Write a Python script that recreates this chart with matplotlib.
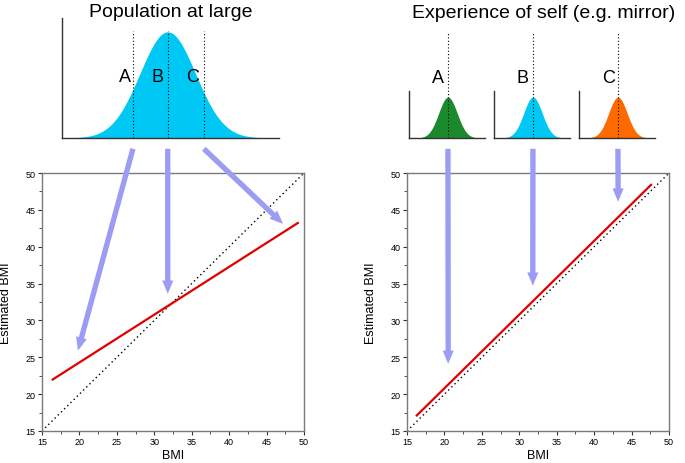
import matplotlib
matplotlib.use("Agg")
import matplotlib.pyplot as plt
import matplotlib.transforms as mtransforms
import numpy as np

plt.rcParams["font.family"] = ["Liberation Sans", "DejaVu Sans"]

# main panels: red fitted lines
pop_x = [16.3, 49.3]
pop_y = [21.9, 43.3]
self_x = [16.2, 47.7]
self_y = [17.0, 48.5]
ident = [15, 50]

# where the arrows land (BMI, estimated BMI)
pop_targets = [(19.8, 25.9), (31.8, 33.6), (47.2, 43.1)]
self_targets = [(20.5, 24.1), (31.8, 34.7), (43.2, 46.1)]

# top distributions, in sd units
labels = ["A", "B", "C"]
pop_marks = [-1.25, 0.0, 1.3]
pop_label_x = [-1.54, -0.36, 0.9]
self_colors = ["#1a8a2c", "#00c8f5", "#ff6a00"]
arrow_color = "#9c9cf5"

fig = plt.figure(figsize=(6.85, 4.64), dpi=100)


def main_panel(rect, xs, ys):
    ax = fig.add_axes(rect)
    ax.plot(ident, ident, color="black", ls=(0, (1, 2.2)), lw=1)
    ax.plot(xs, ys, color="#e00000", lw=1.6, solid_capstyle="butt")
    ax.set_xlim(15, 50)
    ax.set_ylim(15, 50)
    ax.set_xticks(np.arange(15, 51, 5))
    ax.set_yticks(np.arange(15, 51, 5))
    ax.set_xticks(np.arange(17.5, 50, 5), minor=True)
    ax.set_yticks(np.arange(17.5, 50, 5), minor=True)
    ax.tick_params(which="major", direction="out", length=3, width=0.8,
                   labelsize=6.5, pad=1.5, color="#333333")
    ax.tick_params(which="minor", direction="out", length=2, width=0.6,
                   color="#333333")
    for s in ax.spines.values():
        s.set_color("#7a7a7a")
        s.set_linewidth(1)
    ax.set_xlabel("BMI", fontsize=9, labelpad=2)
    ax.set_ylabel("Estimated BMI", fontsize=9, labelpad=10)
    return ax


ax1 = main_panel([0.0613, 0.069, 0.3825, 0.556], pop_x, pop_y)
ax2 = main_panel([0.5942, 0.069, 0.3825, 0.556], self_x, self_y)


def gauss_panel(rect, xlim, ylim, color):
    ax = fig.add_axes(rect)
    x = np.linspace(xlim[0], xlim[1], 300)
    ax.fill_between(x, np.exp(-x ** 2 / 2), color=color, lw=0)
    ax.set_xlim(*xlim)
    ax.set_ylim(*ylim)
    ax.set_xticks([])
    ax.set_yticks([])
    ax.spines["top"].set_visible(False)
    ax.spines["right"].set_visible(False)
    for s in ["left", "bottom"]:
        ax.spines[s].set_color("#333333")
        ax.spines[s].set_linewidth(1)
    return ax


def arrow(ax_from, xpos, ax_to, target):
    trans = mtransforms.blended_transform_factory(ax_from.transData,
                                                  ax_from.transAxes)
    ystart = -0.09 if ax_from.get_position().height > 0.2 else -0.23
    ax_to.annotate("", xy=target, xycoords="data",
                   xytext=(xpos, ystart), textcoords=trans,
                   arrowprops=dict(arrowstyle="simple,head_length=0.6,head_width=0.5,tail_width=0.24",
                                   mutation_scale=16, color=arrow_color,
                                   shrinkA=0, shrinkB=0, lw=0))


# population at large
axp = gauss_panel([0.0905, 0.7004, 0.3168, 0.2586], (-3.8, 4.0), (0, 1.13), "#00c8f5")
axp.vlines(pop_marks, 0, 1.01, colors="black", linestyles=(0, (1, 2)), lw=0.8)
for lab, lx in zip(labels, pop_label_x):
    axp.text(lx, 0.575, lab, fontsize=13, ha="center", va="center")
for m, t in zip(pop_marks, pop_targets):
    arrow(axp, m, ax1, t)
fig.text(171 / 685, 1 - 17 / 464, "Population at large", fontsize=14,
         ha="center", va="baseline")

# experience of self
lefts = [409 / 685, 494 / 685, 579 / 685]
label_dx = [-1.1, -1.1, -1.0]
for i, (l, c) in enumerate(zip(lefts, self_colors)):
    axs = gauss_panel([l, 0.7004, 0.111, 0.1013], (-4.2, 4.0), (0, 1.15), c)
    axs.vlines([0], 0, 2.6, colors="black", linestyles=(0, (1, 2)), lw=0.8,
               clip_on=False)
    axs.text(label_dx[i], 1.49, labels[i], fontsize=13, ha="center", va="center")
    arrow(axs, 0, ax2, self_targets[i])
fig.text(544 / 685, 1 - 18 / 464, "Experience of self (e.g. mirror)", fontsize=14,
         ha="center", va="baseline")

fig.savefig("out.png", dpi=100)
